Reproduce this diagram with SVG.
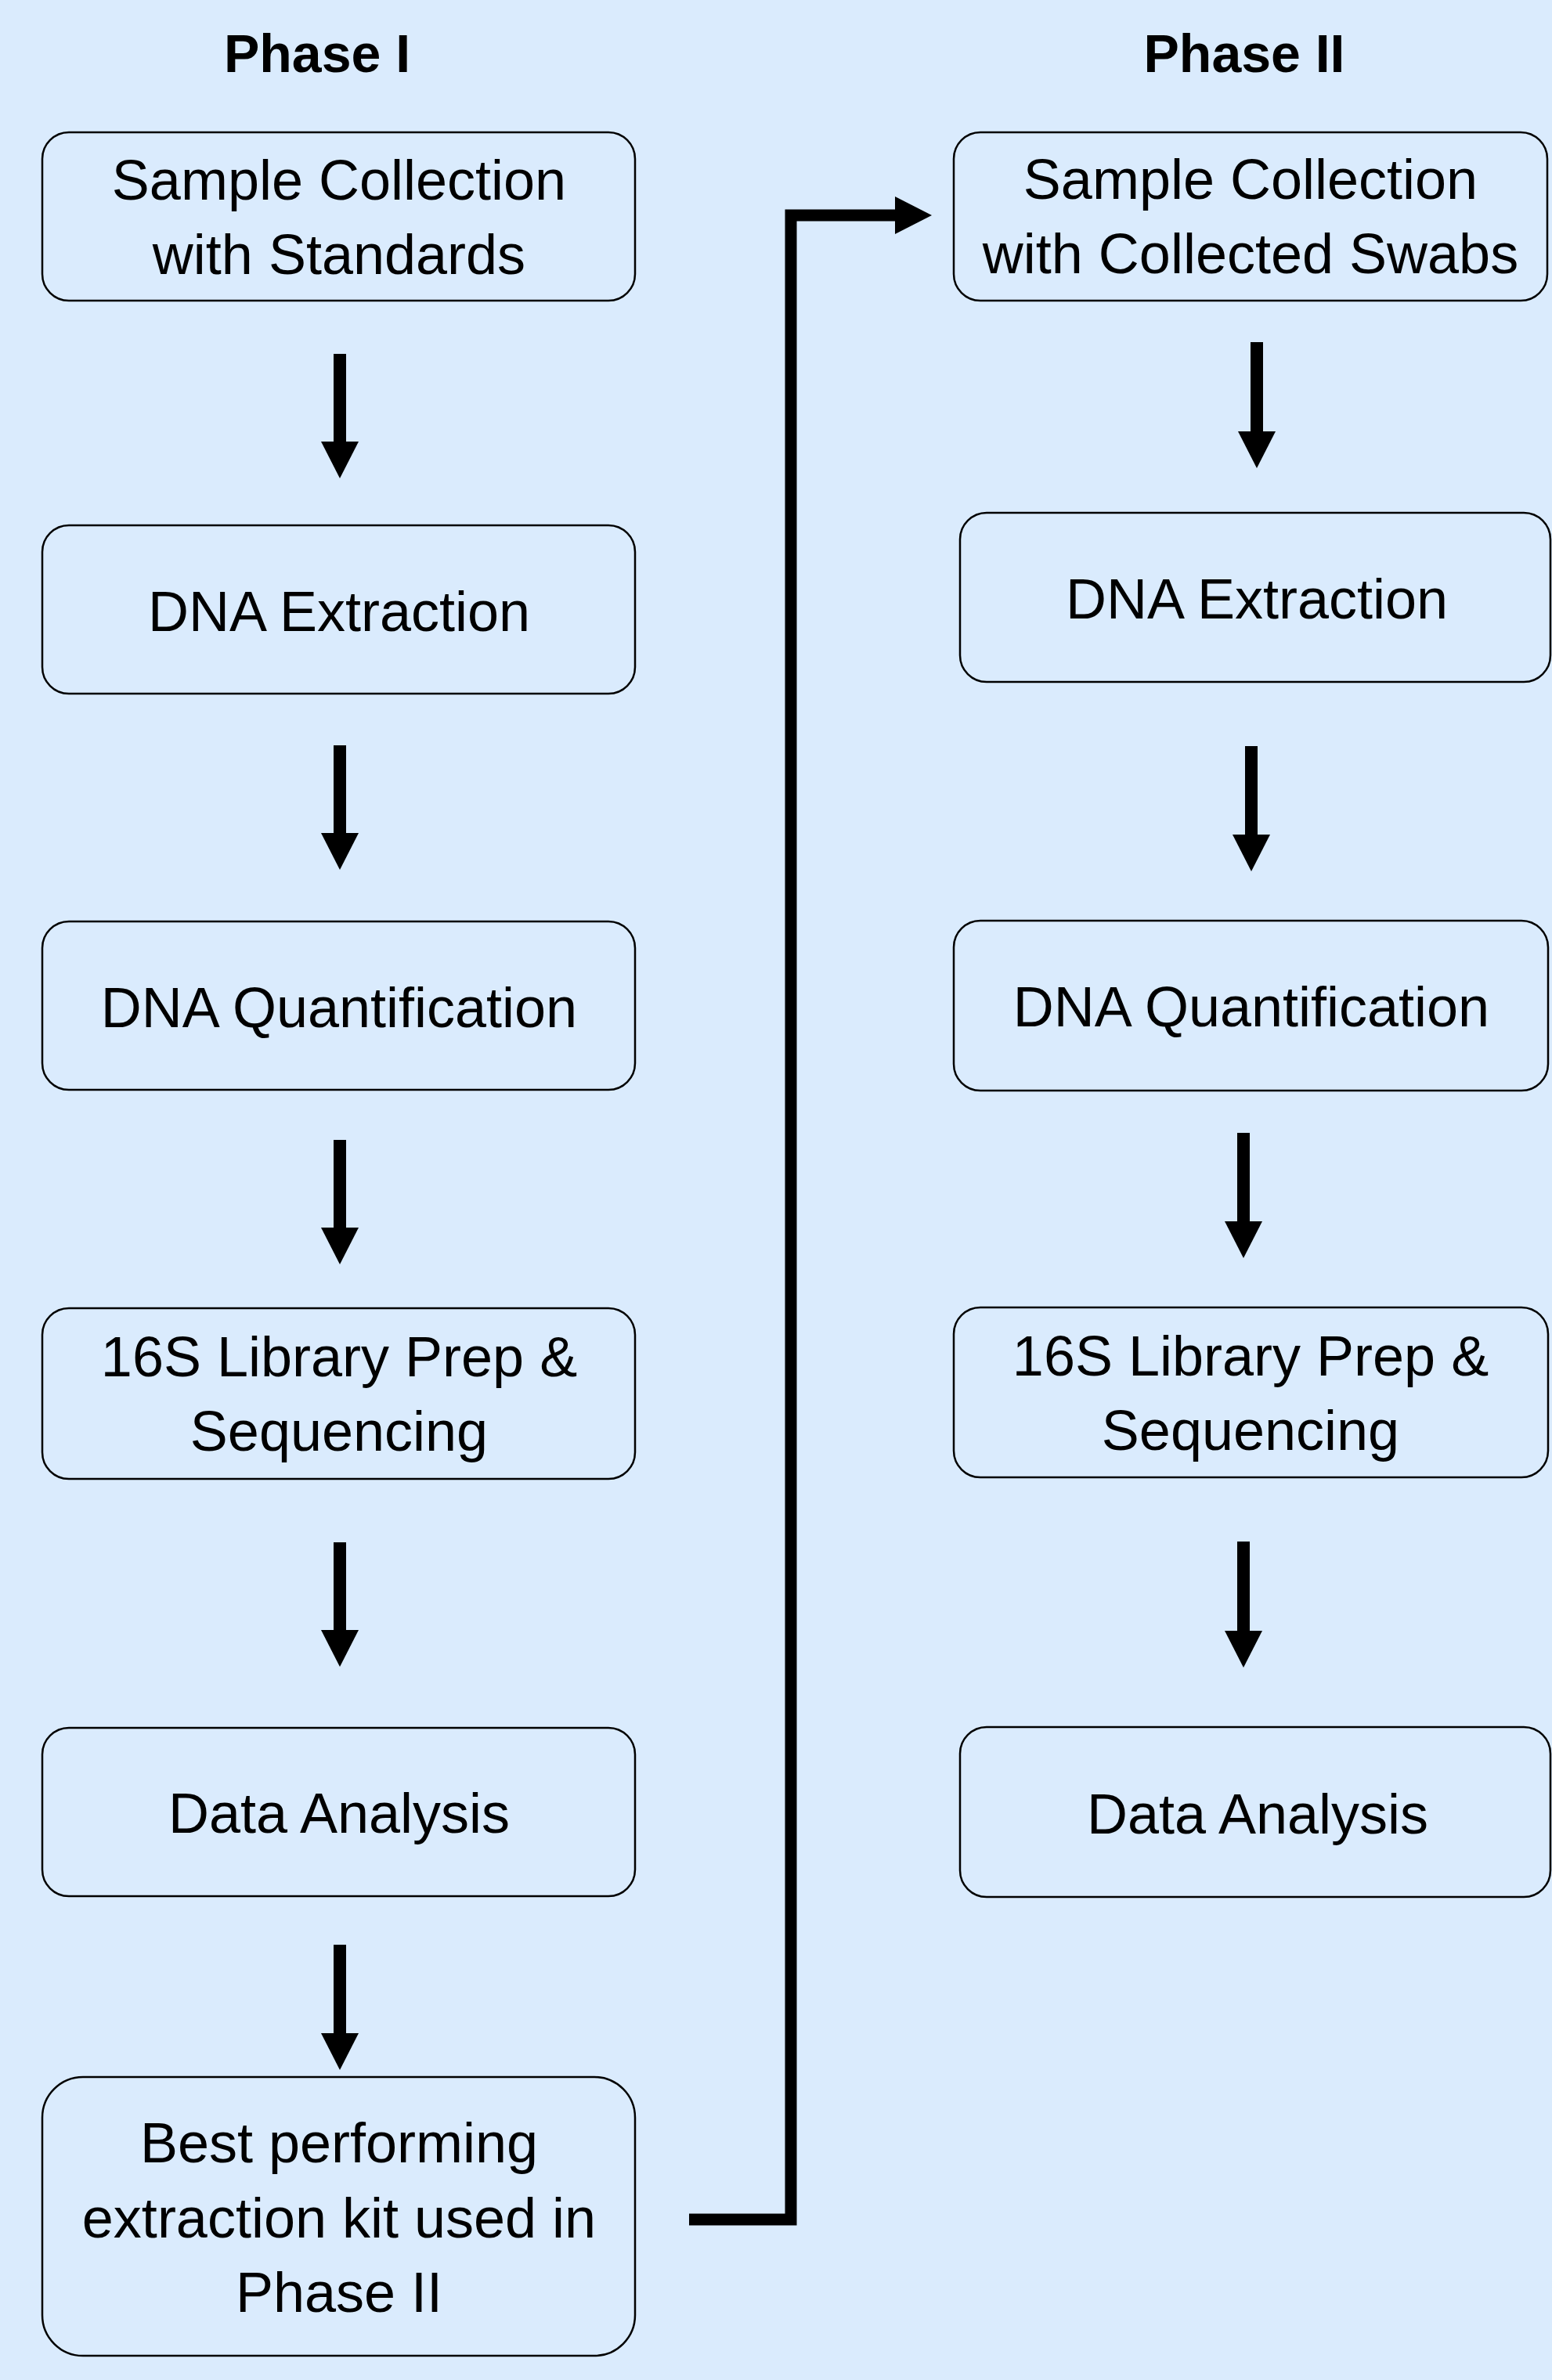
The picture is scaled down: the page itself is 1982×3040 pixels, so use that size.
<svg xmlns="http://www.w3.org/2000/svg" width="1982" height="3040" viewBox="0 0 1982 3040">
  <style>
    .box { fill: #DAEBFD; stroke: #000; stroke-width: 2.5; }
    .lbl { font-family: "Liberation Sans", Arial, sans-serif; font-size: 72px; fill: #000; text-anchor: middle; }
    .title { font-family: "Liberation Sans", Arial, sans-serif; font-size: 68px; font-weight: bold; fill: #000; text-anchor: middle; }
    .arrow { fill: none; stroke: #000; stroke-width: 16; stroke-linecap: butt; }
    .link { fill: none; stroke: #000; stroke-width: 15; stroke-linejoin: miter; }
  </style>
  <defs>
    <marker id="head" markerUnits="userSpaceOnUse" markerWidth="48" markerHeight="48" refX="0" refY="24" orient="auto" viewBox="0 0 48 48">
      <path d="M0,0 L47,24 L0,48 Z" fill="#000"/>
    </marker>
  </defs>

  <!-- background -->
  <rect x="0" y="0" width="1982" height="3040" fill="#DAEBFD"/>

  <!-- column headings -->
  <text class="title" x="405" y="92">Phase I</text>
  <text class="title" x="1589" y="92">Phase II</text>

  <!-- Phase I column -->
  <g id="p1-sample">
    <rect class="box" x="54" y="169" width="757" height="215" rx="34" ry="34"/>
    <text class="lbl" x="433" y="255">Sample Collection</text>
    <text class="lbl" x="433" y="350">with Standards</text>
  </g>
  <g id="p1-extraction">
    <rect class="box" x="54" y="671" width="757" height="215" rx="34" ry="34"/>
    <text class="lbl" x="433" y="806">DNA Extraction</text>
  </g>
  <g id="p1-quant">
    <rect class="box" x="54" y="1177" width="757" height="215" rx="34" ry="34"/>
    <text class="lbl" x="433" y="1312">DNA Quantification</text>
  </g>
  <g id="p1-library">
    <rect class="box" x="54" y="1671" width="757" height="218" rx="34" ry="34"/>
    <text class="lbl" x="433" y="1758">16S Library Prep &amp;</text>
    <text class="lbl" x="433" y="1853">Sequencing</text>
  </g>
  <g id="p1-analysis">
    <rect class="box" x="54" y="2207" width="757" height="215" rx="34" ry="34"/>
    <text class="lbl" x="433" y="2341">Data Analysis</text>
  </g>
  <g id="p1-best-kit">
    <rect class="box" x="54" y="2653" width="757" height="356" rx="52" ry="52"/>
    <text class="lbl" x="433" y="2762">Best performing</text>
    <text class="lbl" x="433" y="2858">extraction kit used in</text>
    <text class="lbl" x="433" y="2953">Phase II</text>
  </g>

  <!-- Phase II column -->
  <g id="p2-sample">
    <rect class="box" x="1218" y="169" width="758" height="215" rx="34" ry="34"/>
    <text class="lbl" x="1597" y="254">Sample Collection</text>
    <text class="lbl" x="1597" y="349">with Collected Swabs</text>
  </g>
  <g id="p2-extraction">
    <rect class="box" x="1226" y="655" width="754" height="216" rx="34" ry="34"/>
    <text class="lbl" x="1605" y="790">DNA Extraction</text>
  </g>
  <g id="p2-quant">
    <rect class="box" x="1218" y="1176" width="759" height="217" rx="34" ry="34"/>
    <text class="lbl" x="1598" y="1311">DNA Quantification</text>
  </g>
  <g id="p2-library">
    <rect class="box" x="1218" y="1670" width="759" height="217" rx="34" ry="34"/>
    <text class="lbl" x="1597" y="1757">16S Library Prep &amp;</text>
    <text class="lbl" x="1597" y="1852">Sequencing</text>
  </g>
  <g id="p2-analysis">
    <rect class="box" x="1226" y="2206" width="754" height="217" rx="34" ry="34"/>
    <text class="lbl" x="1606" y="2342">Data Analysis</text>
  </g>

  <!-- connectors: shaft ends at the base of the head; marker draws the head -->
  <g id="connectors">
    <line class="arrow" x1="434" y1="452" x2="434" y2="564" marker-end="url(#head)"/>
    <line class="arrow" x1="434" y1="952" x2="434" y2="1064" marker-end="url(#head)"/>
    <line class="arrow" x1="434" y1="1456" x2="434" y2="1568" marker-end="url(#head)"/>
    <line class="arrow" x1="434" y1="1970" x2="434" y2="2082" marker-end="url(#head)"/>
    <line class="arrow" x1="434" y1="2484" x2="434" y2="2597" marker-end="url(#head)"/>

    <line class="arrow" x1="1605" y1="437" x2="1605" y2="551" marker-end="url(#head)"/>
    <line class="arrow" x1="1598" y1="953" x2="1598" y2="1066" marker-end="url(#head)"/>
    <line class="arrow" x1="1588" y1="1447" x2="1588" y2="1560" marker-end="url(#head)"/>
    <line class="arrow" x1="1588" y1="1969" x2="1588" y2="2083" marker-end="url(#head)"/>

    <polyline class="link" points="880,2835 1010,2835 1010,275 1143,275" marker-end="url(#head)"/>
  </g>
</svg>
